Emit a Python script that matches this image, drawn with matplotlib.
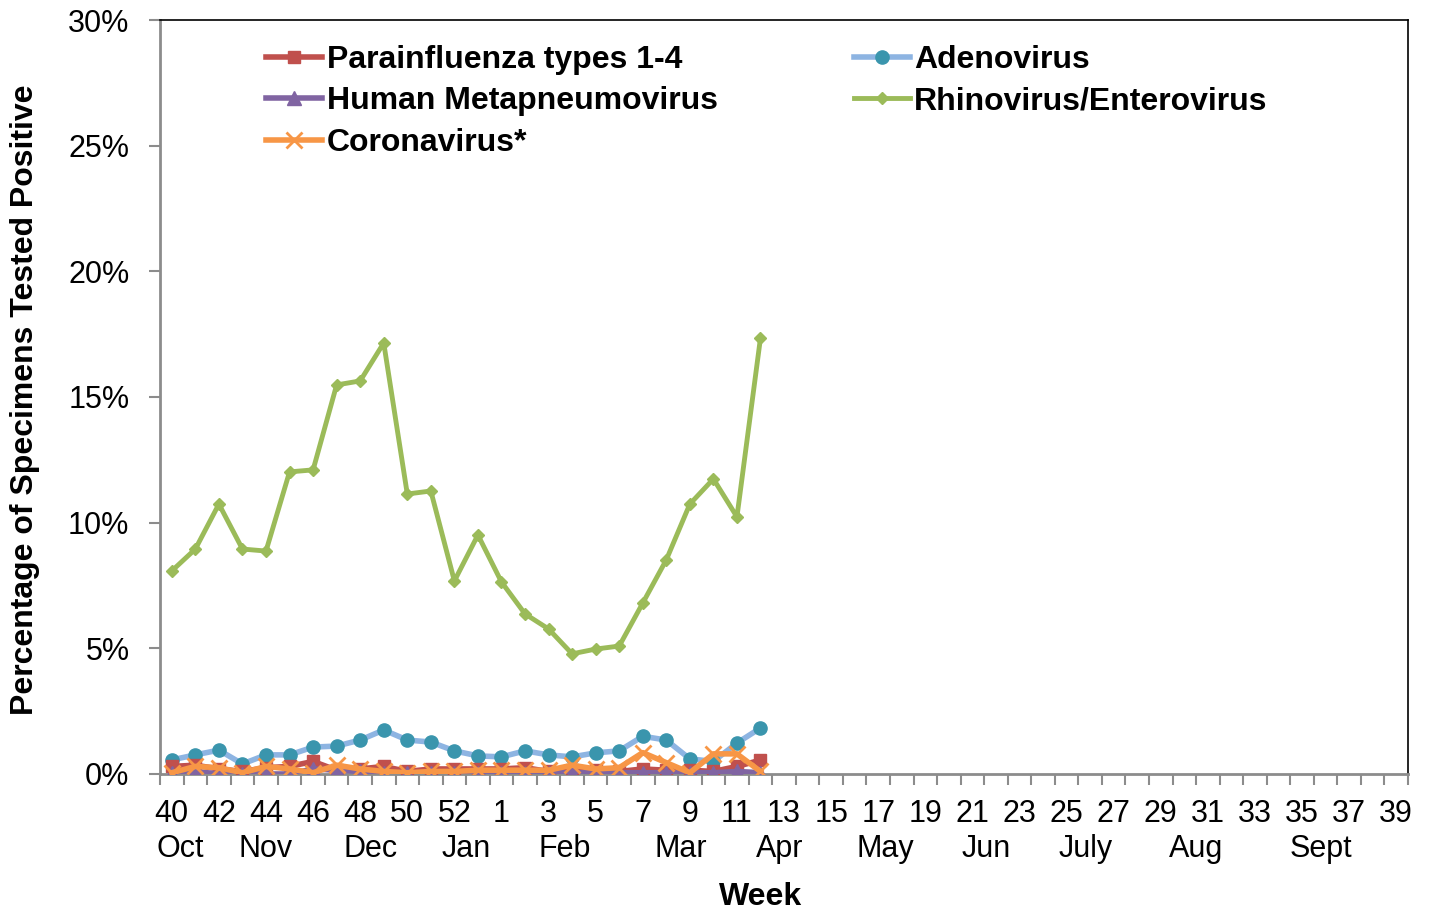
import matplotlib
matplotlib.use("Agg")
import matplotlib.pyplot as plt
from matplotlib.ticker import FixedLocator, MultipleLocator, FuncFormatter

plt.rcParams['font.family'] = ['Liberation Sans', 'DejaVu Sans']

# weeks 40..53 then 1..39
weeks = list(range(40, 54)) + list(range(1, 40))

# percent positive per week (data ends at week 12)
parainfluenza = [0.3, 0.35, 0.2, 0.1, 0.25, 0.3, 0.5, 0.15, 0.2, 0.3, 0.1, 0.2, 0.2,
                 0.2, 0.2, 0.25, 0.1, 0.15, 0.15, 0.1, 0.2, 0.15, 0.15, 0.1, 0.3, 0.55]
adenovirus = [0.56, 0.76, 0.95, 0.4, 0.76, 0.76, 1.07, 1.11, 1.35, 1.75, 1.35, 1.27, 0.92,
              0.72, 0.68, 0.92, 0.76, 0.68, 0.84, 0.92, 1.5, 1.35, 0.6, 0.5, 1.23, 1.83]
hmpv = [0.05, 0.1, 0.0, 0.0, 0.0, 0.0, 0.2, 0.15, 0.1, 0.05, 0.05, 0.05, 0.05,
        0.05, 0.05, 0.05, 0.05, 0.05, 0.05, 0.05, 0.05, 0.05, 0.05, 0.05, 0.1, 0.05]
rhino = [8.08, 8.95, 10.74, 8.95, 8.87, 12.02, 12.1, 15.48, 15.64, 17.15, 11.14, 11.26, 7.68,
         9.51, 7.64, 6.37, 5.77, 4.78, 4.97, 5.09, 6.8, 8.52, 10.74, 11.74, 10.23, 17.35]
corona = [0.05, 0.3, 0.25, 0.05, 0.3, 0.2, 0.05, 0.35, 0.2, 0.1, 0.05, 0.1, 0.1,
          0.15, 0.15, 0.15, 0.15, 0.35, 0.2, 0.25, 0.85, 0.45, 0.05, 0.8, 0.8, 0.1]

months = ['Oct', 'Nov', 'Dec', 'Jan', 'Feb', 'Mar', 'Apr', 'May', 'Jun', 'July', 'Aug', 'Sept']
month_pos = [0.35, 4.0, 8.45, 12.5, 16.7, 21.6, 25.8, 30.3, 34.6, 38.8, 43.5, 48.8]

fig = plt.figure(figsize=(14.34, 9.14), dpi=100)
ax = fig.add_axes([0.1116, 0.1532, 0.8703, 0.8249])

x = list(range(len(rhino)))
ax.plot(x, adenovirus, color='#8DB4E2', lw=4, marker='o', ms=9.5,
        mfc='#3A95AD', mec='#3A95AD', label='Adenovirus', zorder=3)
ax.plot(x, parainfluenza, color='#C0504D', lw=4, marker='s', ms=8,
        label='Parainfluenza types 1-4', zorder=4)
ax.plot(x, hmpv, color='#8064A2', lw=4, marker='^', ms=9.5,
        label='Human Metapneumovirus', zorder=5)
ax.plot(x, rhino, color='#9BBB59', lw=3.5, marker='D', ms=6.5,
        label='Rhinovirus/Enterovirus', zorder=6)
ax.plot(x, corona, color='#F79646', lw=4, marker='x', ms=11, mew=2,
        label='Coronavirus*', zorder=7)

ax.set_xlim(-0.5, len(weeks) - 0.5)
ax.set_ylim(0, 30)

ax.xaxis.set_major_locator(FixedLocator(list(range(0, len(weeks), 2))))
ax.set_xticklabels([str(weeks[i]) for i in range(0, len(weeks), 2)])
ax.xaxis.set_minor_locator(MultipleLocator(1, offset=0.5))
ax.tick_params(axis='x', which='major', length=0, labelsize=22, pad=18)
ax.tick_params(axis='x', which='minor', length=8, width=1.5, color='#8C8C8C', direction='out')

ax.yaxis.set_major_locator(MultipleLocator(5))
ax.yaxis.set_major_formatter(FuncFormatter(lambda v, p: '%d%%' % v))
ax.tick_params(axis='y', length=8, width=1.5, color='#8C8C8C', labelsize=22, pad=14)

for s in ['left', 'bottom']:
    ax.spines[s].set_color('#8C8C8C')
    ax.spines[s].set_linewidth(2)
for s in ['top', 'right']:
    ax.spines[s].set_color('black')
    ax.spines[s].set_linewidth(1.2)

for m, p in zip(months, month_pos):
    ax.text(p, -3.0, m, ha='center', va='center', fontsize=22)

fig.text(761 / 1434, 1 - 897 / 914, 'Week', ha='center', va='center',
         fontsize=23, fontweight='bold')
fig.text(25 / 1434, 1 - 400 / 914, 'Percentage of Specimens Tested Positive', ha='center',
         va='center', rotation=90, fontsize=23, fontweight='bold')

h, l = ax.get_legend_handles_labels()
order = [1, 2, 4, 0, 3]
ax.legend([h[i] for i in order], [l[i] for i in order], ncol=2, loc='upper left',
          bbox_to_anchor=(0.062, 1.005), frameon=False, prop={'size': 23, 'weight': 'bold'},
          handlelength=1.75, handletextpad=0.15, columnspacing=4.25, labelspacing=0.36)

fig.savefig('out.png', dpi=100)
